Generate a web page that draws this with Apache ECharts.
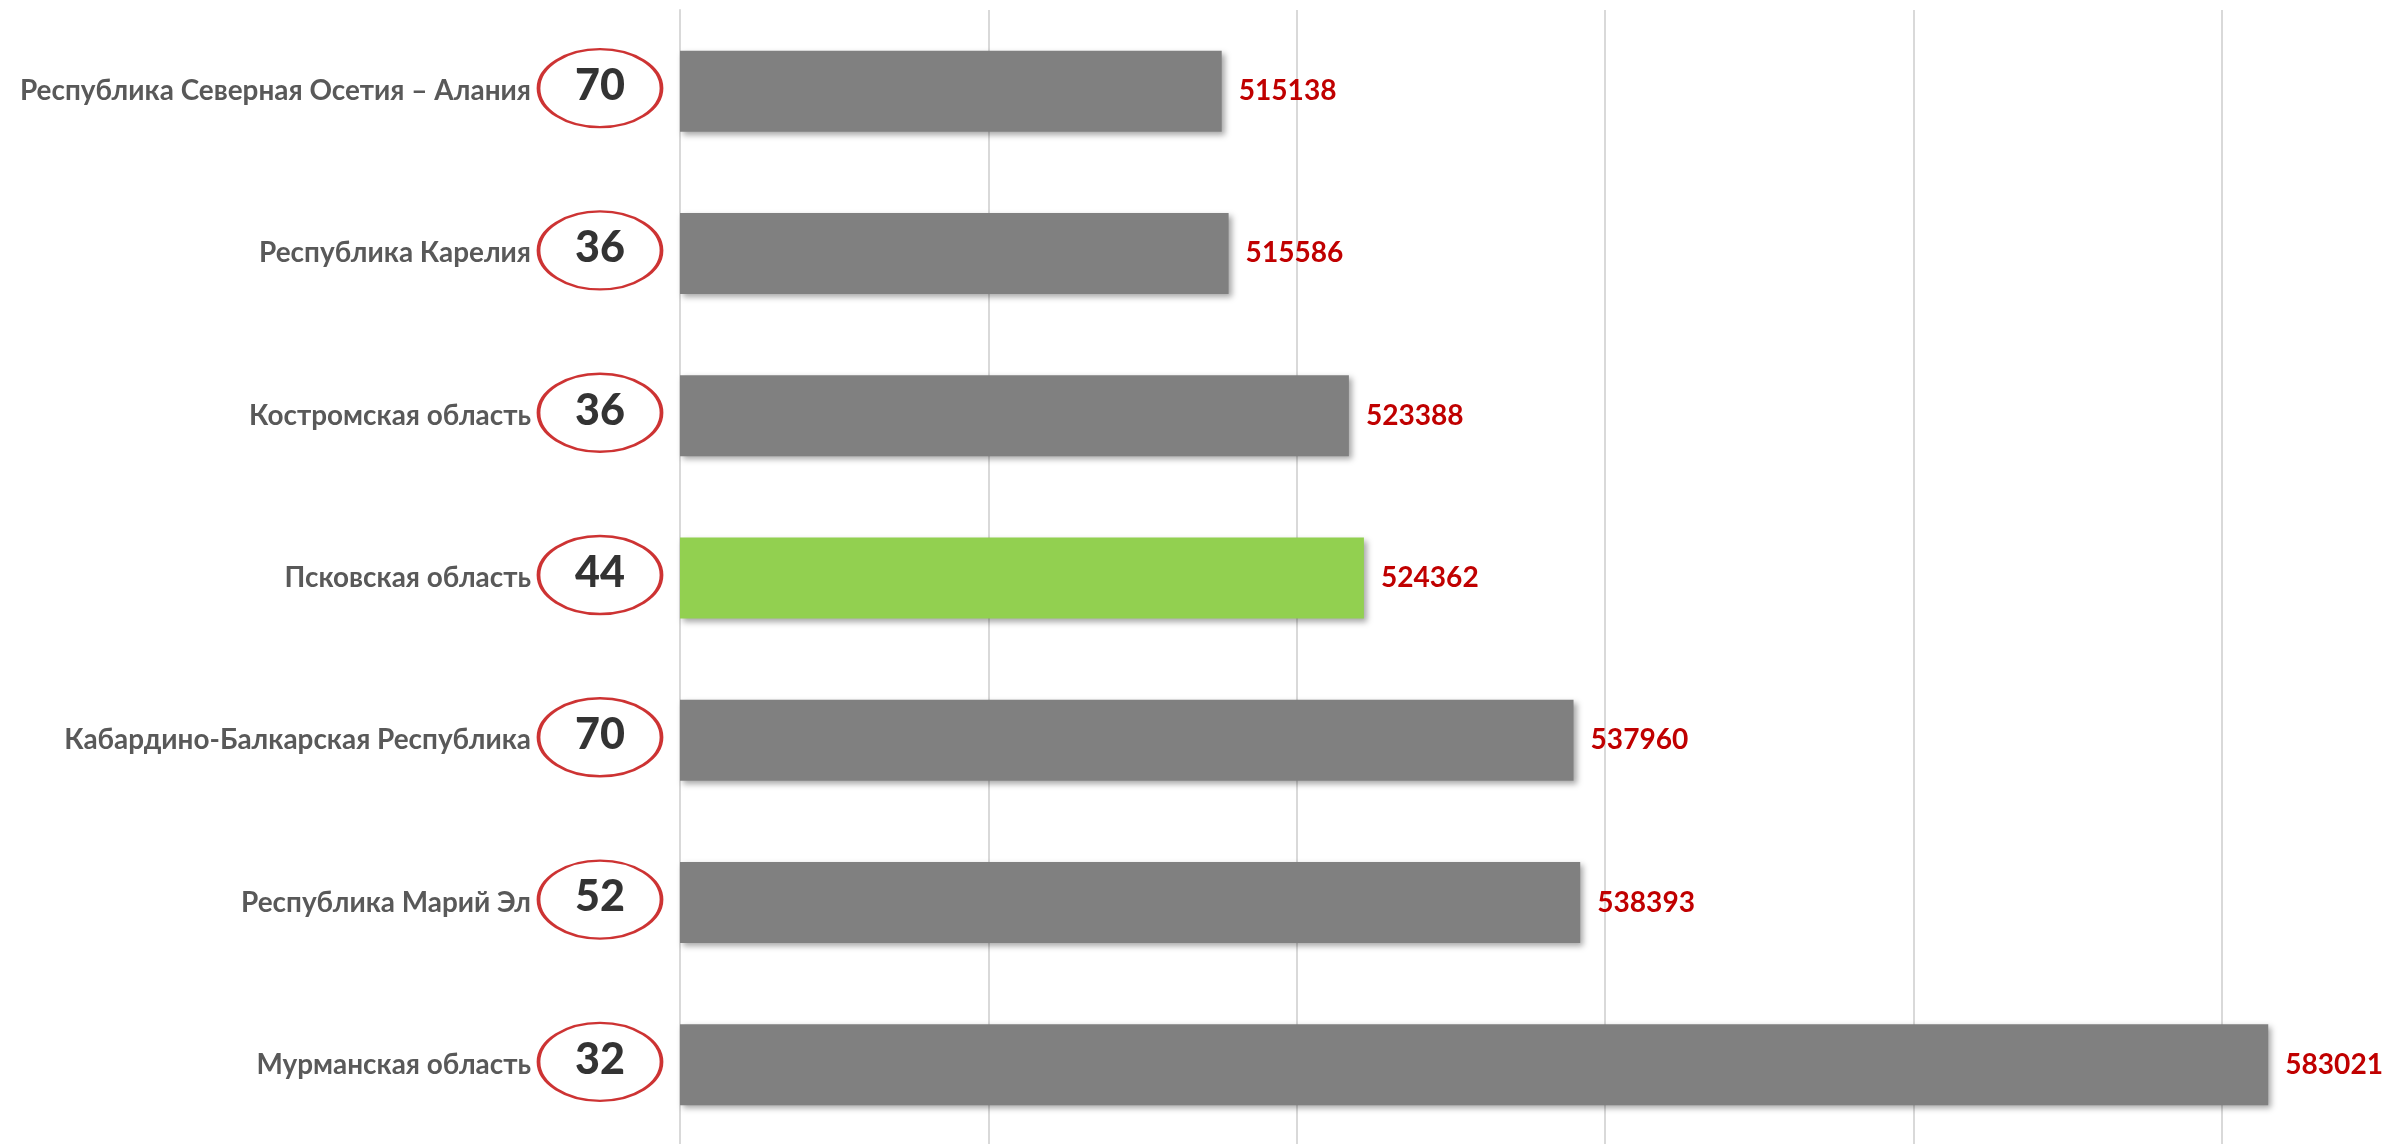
<!DOCTYPE html>
<html>
<head>
<meta charset="utf-8">
<style>
html,body{margin:0;padding:0;background:#fff;}
#c{width:2391px;height:1144px;}
</style>
<script src="https://cdn.jsdelivr.net/npm/echarts@6/dist/echarts.min.js"></script>
</head>
<body>
<div id="c"></div>
<script>
var categories = [
  'Республика Северная Осетия – Алания',
  'Республика Карелия',
  'Костромская область',
  'Псковская область',
  'Кабардино-Балкарская Республика',
  'Республика Марий Эл',
  'Мурманская область'
];
var values = [515138, 515586, 523388, 524362, 537960, 538393, 583021];
var ranks = [70, 36, 36, 44, 70, 52, 32];
var highlight = 'Псковская область';

// pick the narrowest available font family for the condensed look
var ctx = document.createElement('canvas').getContext('2d');
function measure(text, fam, size, weight) {
  ctx.font = (weight || 'bold') + ' ' + size + 'px ' + fam;
  return ctx.measureText(text).width;
}
var candidates = ['"Liberation Sans Narrow"', '"DejaVu Sans Condensed"', 'Roboto', 'Lato', '"Liberation Sans"'];
var FONT = candidates[0];
var best = Infinity;
candidates.forEach(function (f) {
  var w = measure(categories[0], f + ', sans-serif', 30);
  if (w < best - 0.5) { best = w; FONT = f; }
});
FONT = FONT + ', sans-serif';
function fitSize(text, target, maxSize, weight) {
  var w = measure(text, FONT, 100, weight);
  return Math.min(maxSize, Math.floor(100 * target / w * 10) / 10);
}
var catSize = fitSize(categories[0], 513, 30);
var valSize = fitSize('583021', 98, 37);
var rankSize = fitSize('70', 50, 50, '900');

var chart = echarts.init(document.getElementById('c'));

var barData = values.map(function (v, i) {
  return {
    value: v,
    itemStyle: { color: categories[i] === highlight ? '#92D050' : '#808080' }
  };
});
var ellipseData = ranks.map(function (r, i) { return { value: [0, i], rank: r }; });

chart.setOption({
  animation: false,
  backgroundColor: '#ffffff',
  grid: [
    { left: 680, right: -139, top: 10, bottom: -2, containLabel: false, outerBoundsMode: 'none' },
    { left: 537, width: 126, top: 10, bottom: -2, containLabel: false, outerBoundsMode: 'none' }
  ],
  xAxis: [
    {
      gridIndex: 0, type: 'value', min: 480000, max: 600000, interval: 20000,
      axisLabel: { show: false }, axisTick: { show: false }, axisLine: { show: false },
      splitLine: { show: true, lineStyle: { color: '#D9D9D9', width: 2 } }
    },
    {
      gridIndex: 1, type: 'value', min: -1, max: 1, show: false
    }
  ],
  yAxis: [
    {
      gridIndex: 0, type: 'category', data: categories, inverse: true,
      axisTick: { show: false },
      axisLine: { show: true, lineStyle: { color: '#D9D9D9', width: 2 } },
      axisLabel: {
        margin: 149, color: '#595959', fontFamily: FONT, fontWeight: 'bold', fontSize: catSize
      }
    },
    {
      gridIndex: 1, type: 'category', data: categories, inverse: true, show: false
    }
  ],
  series: [
    {
      type: 'bar', xAxisIndex: 0, yAxisIndex: 0, data: barData, barWidth: 81,
      itemStyle: {
        shadowColor: 'rgba(0,0,0,0.35)', shadowBlur: 6, shadowOffsetX: 3, shadowOffsetY: 3
      },
      label: {
        show: true, position: 'right', distance: 17, color: '#C00000',
        fontFamily: FONT, fontWeight: 'bold', fontSize: valSize
      }
    },
    {
      type: 'scatter', xAxisIndex: 1, yAxisIndex: 1, data: ellipseData,
      symbol: 'path://M0,50 A50,50 0 1,1 100,50 A50,50 0 1,1 0,50 Z',
      symbolSize: [123, 78], symbolOffset: [0, -3], clip: false,
      itemStyle: { color: '#ffffff', borderColor: '#C00000', borderWidth: 3 },
      label: {
        show: true, position: 'inside', offset: [0, -2],
        formatter: function (p) { return String(p.data.rank); },
        color: '#000000', fontFamily: FONT, fontWeight: 900, fontSize: rankSize
      },
      z: 5
    }
  ]
});
</script>
</body>
</html>
